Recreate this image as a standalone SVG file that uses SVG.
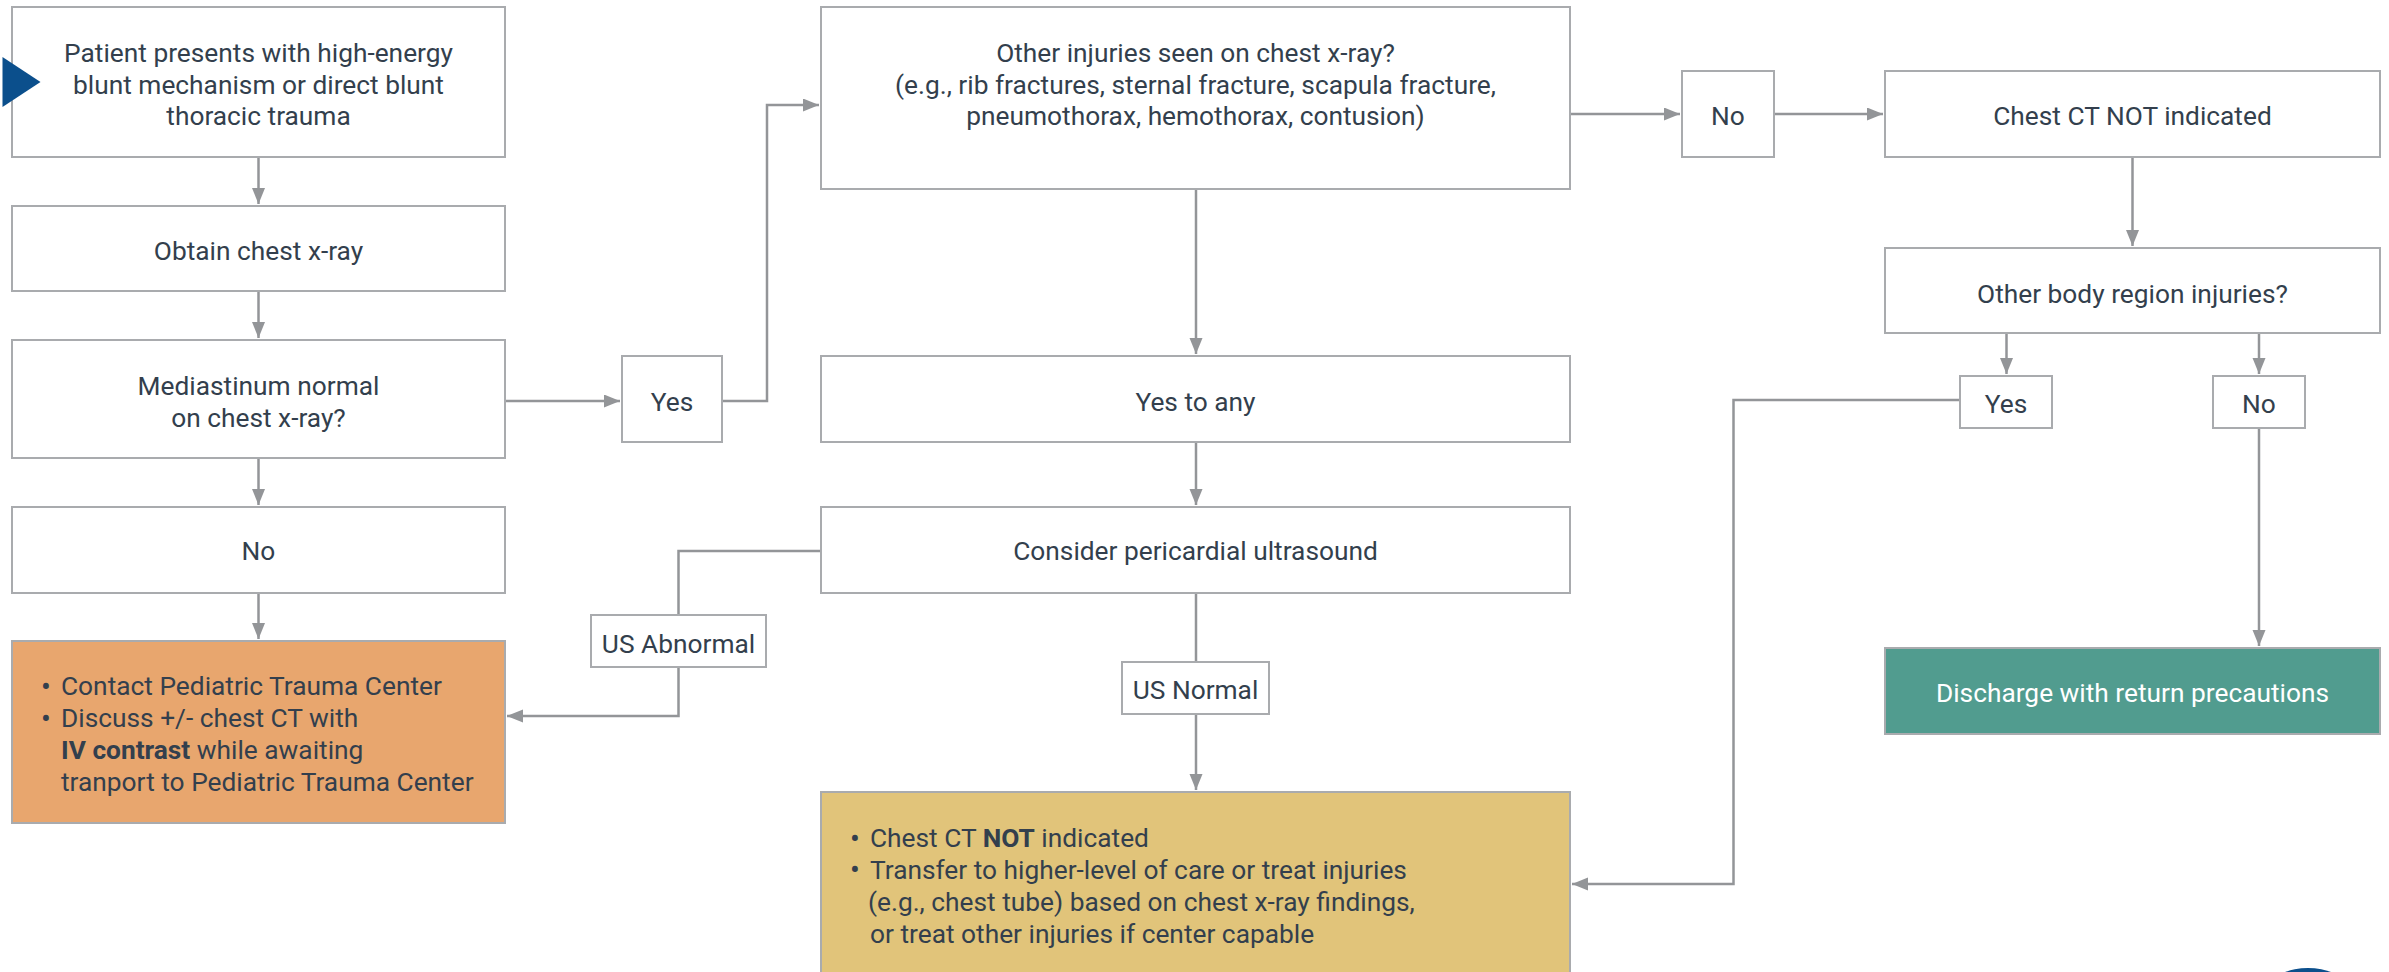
<svg xmlns="http://www.w3.org/2000/svg" width="2389" height="972" viewBox="0 0 2389 972">
<style>
.box{fill:#ffffff;stroke:#A9ABAE;stroke-width:2}
.orange{fill:#E8A66E;stroke:#A9ABAE;stroke-width:2}
.yellow{fill:#E1C47A;stroke:#A9ABAE;stroke-width:2}
.teal{fill:#519C8F;stroke:#A9ABAE;stroke-width:2}
text{font-family:Roboto,"Liberation Sans",sans-serif;font-size:26.3px;fill:#333F4D}
.c{text-anchor:middle}
.w{fill:#ffffff}
.b{font-weight:700}
.bul{font-size:29px}
.conn{fill:none;stroke:#939598;stroke-width:2.5}
</style>
<defs>
<marker id="ah" markerUnits="userSpaceOnUse" markerWidth="17" markerHeight="14" refX="16" refY="6.5" orient="auto">
<path d="M0,0 L16,6.5 L0,13 z" fill="#939598"/>
</marker>
</defs>
<rect width="2389" height="972" fill="#ffffff"/>

<g id="connectors">
<path class="conn" d="M258.5,157 V204" marker-end="url(#ah)"/>
<path class="conn" d="M258.5,291 V338" marker-end="url(#ah)"/>
<path class="conn" d="M258.5,458 V505" marker-end="url(#ah)"/>
<path class="conn" d="M258.5,593 V639" marker-end="url(#ah)"/>
<path class="conn" d="M505,401 H620" marker-end="url(#ah)"/>
<path class="conn" d="M722,401 H767 V105 H819" marker-end="url(#ah)"/>
<path class="conn" d="M1196,189 V354" marker-end="url(#ah)"/>
<path class="conn" d="M1196,442 V505" marker-end="url(#ah)"/>
<path class="conn" d="M821,551 H678.5 V615"/>
<path class="conn" d="M678.5,667 V716 H507" marker-end="url(#ah)"/>
<path class="conn" d="M1196,593 V662"/>
<path class="conn" d="M1196,714 V790" marker-end="url(#ah)"/>
<path class="conn" d="M1570,114 H1680" marker-end="url(#ah)"/>
<path class="conn" d="M1774,114 H1883" marker-end="url(#ah)"/>
<path class="conn" d="M2132.5,157 V246" marker-end="url(#ah)"/>
<path class="conn" d="M2006.5,333 V374" marker-end="url(#ah)"/>
<path class="conn" d="M2259,333 V374" marker-end="url(#ah)"/>
<path class="conn" d="M1960,400 H1733.5 V884 H1572" marker-end="url(#ah)"/>
<path class="conn" d="M2259,428 V646" marker-end="url(#ah)"/>
</g>

<g id="start">
<rect class="box" x="12" y="7" width="493" height="150"/>
<text class="c" x="258.5" y="62">Patient presents with high-energy</text>
<text class="c" x="258.5" y="93.5">blunt mechanism or direct blunt</text>
<text class="c" x="258.5" y="125">thoracic trauma</text>
<path d="M2.5,57 L40.5,82 L2.5,107 z" fill="#0B4F8C"/>
</g>

<g id="xray">
<rect class="box" x="12" y="206" width="493" height="85"/>
<text class="c" x="258.5" y="260">Obtain chest x-ray</text>
</g>

<g id="mediastinum">
<rect class="box" x="12" y="340" width="493" height="118"/>
<text class="c" x="258.5" y="395">Mediastinum normal</text>
<text class="c" x="258.5" y="427">on chest x-ray?</text>
</g>

<g id="yes-left">
<rect class="box" x="622" y="356" width="100" height="86"/>
<text class="c" x="672" y="410.5">Yes</text>
</g>

<g id="no-left">
<rect class="box" x="12" y="507" width="493" height="86"/>
<text class="c" x="258.5" y="560">No</text>
</g>

<g id="contact-ptc">
<rect class="orange" x="12" y="641" width="493" height="182"/>
<text y="695"><tspan class="bul" x="41" dy="1.5">•</tspan><tspan x="61" dy="-1.5">Contact Pediatric Trauma Center</tspan></text>
<text y="727"><tspan class="bul" x="41" dy="1.5">•</tspan><tspan x="61" dy="-1.5">Discuss +/- chest CT with</tspan></text>
<text x="61" y="759"><tspan class="b">IV contrast</tspan> while awaiting</text>
<text x="61" y="791">tranport to Pediatric Trauma Center</text>
</g>

<g id="us-abnormal">
<rect class="box" x="591" y="615" width="175" height="52"/>
<text class="c" x="678.5" y="652.5">US Abnormal</text>
</g>

<g id="other-injuries">
<rect class="box" x="821" y="7" width="749" height="182"/>
<text class="c" x="1195.5" y="62">Other injuries seen on chest x-ray?</text>
<text class="c" x="1195.5" y="93.5">(e.g., rib fractures, sternal fracture, scapula fracture,</text>
<text class="c" x="1195.5" y="125">pneumothorax, hemothorax, contusion)</text>
</g>

<g id="yes-to-any">
<rect class="box" x="821" y="356" width="749" height="86"/>
<text class="c" x="1195.5" y="410.5">Yes to any</text>
</g>

<g id="consider-us">
<rect class="box" x="821" y="507" width="749" height="86"/>
<text class="c" x="1195.5" y="560">Consider pericardial ultrasound</text>
</g>

<g id="us-normal">
<rect class="box" x="1122" y="662" width="147" height="52"/>
<text class="c" x="1195.5" y="699">US Normal</text>
</g>

<g id="ct-not-indicated-transfer">
<rect class="yellow" x="821" y="792" width="749" height="200"/>
<text y="847"><tspan class="bul" x="850" dy="1.5">•</tspan><tspan x="870" dy="-1.5">Chest CT </tspan><tspan class="b">NOT</tspan><tspan> indicated</tspan></text>
<text y="878.5"><tspan class="bul" x="850" dy="1.5">•</tspan><tspan x="870" dy="-1.5">Transfer to higher-level of care or treat injuries</tspan></text>
<text x="868" y="910.5">(e.g., chest tube) based on chest x-ray findings,</text>
<text x="870" y="942.5">or treat other injuries if center capable</text>
</g>

<g id="no-right">
<rect class="box" x="1682" y="71" width="92" height="86"/>
<text class="c" x="1728" y="125">No</text>
</g>

<g id="chest-ct-not">
<rect class="box" x="1885" y="71" width="495" height="86"/>
<text class="c" x="2132.5" y="125">Chest CT NOT indicated</text>
</g>

<g id="other-body">
<rect class="box" x="1885" y="248" width="495" height="85"/>
<text class="c" x="2132.5" y="302.5">Other body region injuries?</text>
</g>

<g id="yes-body">
<rect class="box" x="1960" y="376" width="92" height="52"/>
<text class="c" x="2006" y="413">Yes</text>
</g>

<g id="no-body">
<rect class="box" x="2213" y="376" width="92" height="52"/>
<text class="c" x="2259" y="413">No</text>
</g>

<g id="discharge">
<rect class="teal" x="1885" y="648" width="495" height="86"/>
<text class="c w" x="2132.5" y="701.5">Discharge with return precautions</text>
</g>

<circle cx="2308" cy="1036" r="68" fill="#0B4F8C"/>
</svg>
